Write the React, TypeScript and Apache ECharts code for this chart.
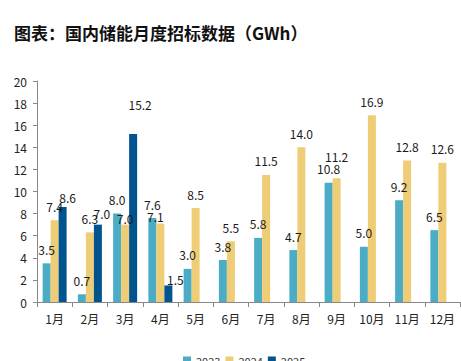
import React, { useEffect, useRef } from "react";
import * as echarts from "echarts";

const months = ["1月", "2月", "3月", "4月", "5月", "6月", "7月", "8月", "9月", "10月", "11月", "12月"];
const s2023 = [3.5, 0.7, 8.0, 7.6, 3.0, 3.8, 5.8, 4.7, 10.8, 5.0, 9.2, 6.5];
const s2024 = [7.4, 6.3, 7.0, 7.1, 8.5, 5.5, 11.5, 14.0, 11.2, 16.9, 12.8, 12.6];
const s2025: (number | null)[] = [8.6, 7.0, 15.2, 1.5, null, null, null, null, null, null, null, null];
const seriesNames = ["2023", "2024", "2025"];
const colors = ["#4BACC6", "#EFCD77", "#02548F"];

// label nudges [seriesIndex, monthIndex, dx, dy]
const labelNudges: [number, number, number, number][] = [
  [2, 0, 5, 5],
  [2, 1, 4, 3],
  [1, 2, 0, 8],
  [2, 2, 7, -16],
  [1, 3, -5, 7],
  [2, 3, 7, 8],
  [1, 8, 0, -8],
];

const FONT = "'Noto Sans CJK SC', 'Noto Sans', sans-serif";

export default function App() {
  const ref = useRef<HTMLDivElement>(null);
  useEffect(() => {
    if (!ref.current) return;
    const chart = echarts.init(ref.current, undefined, { renderer: "svg" });
    const all = [s2023, s2024, s2025];
    const series = all.map((arr, si) => ({
      name: seriesNames[si],
      type: "bar",
      barWidth: 8,
      barGap: "0%",
      itemStyle: { color: colors[si] },
      label: {
        show: true,
        position: "top",
        distance: 8,
        color: "#1a1a1a",
        fontSize: 12,
        fontFamily: FONT,
        formatter: (p: any) => (p.value == null ? "" : Number(p.value).toFixed(1)),
      },
      data: arr.map((v, mi) => {
        const n = labelNudges.find((x) => x[0] === si && x[1] === mi);
        if (n && v != null) return { value: v, label: { offset: [n[2], n[3]] } };
        return v;
      }),
    }));
    chart.setOption({
      animation: false,
      title: {
        text: "图表：国内储能月度招标数据（GWh）",
        left: 9,
        top: 19,
        textStyle: { fontSize: 17, fontWeight: "bold", color: "#111", fontFamily: FONT },
      },
      legend: {
        bottom: -10,
        left: 178,
        itemWidth: 8,
        itemHeight: 8,
        itemGap: 5,
        icon: "rect",
        textStyle: { fontSize: 11, color: "#333", fontFamily: FONT },
        data: seriesNames,
      },
      grid: { left: 37, right: 1, top: 81, bottom: 59, containLabel: false },
      xAxis: {
        type: "category",
        data: months,
        axisLine: { lineStyle: { color: "#888" } },
        axisTick: { show: true, lineStyle: { color: "#888" } },
        axisLabel: { color: "#222", fontSize: 12, margin: 10, fontFamily: FONT },
      },
      yAxis: {
        type: "value",
        min: 0,
        max: 20,
        interval: 2,
        splitLine: { show: false },
        axisLine: { show: true, lineStyle: { color: "#888" } },
        axisTick: { show: true, length: 4, lineStyle: { color: "#888" } },
        axisLabel: { color: "#222", fontSize: 12, margin: 10, fontFamily: FONT },
      },
      series,
    });
    return () => chart.dispose();
  }, []);
  return <div ref={ref} style={{ position: "absolute", left: 0, top: 0, width: 461, height: 361 }} />;
}
